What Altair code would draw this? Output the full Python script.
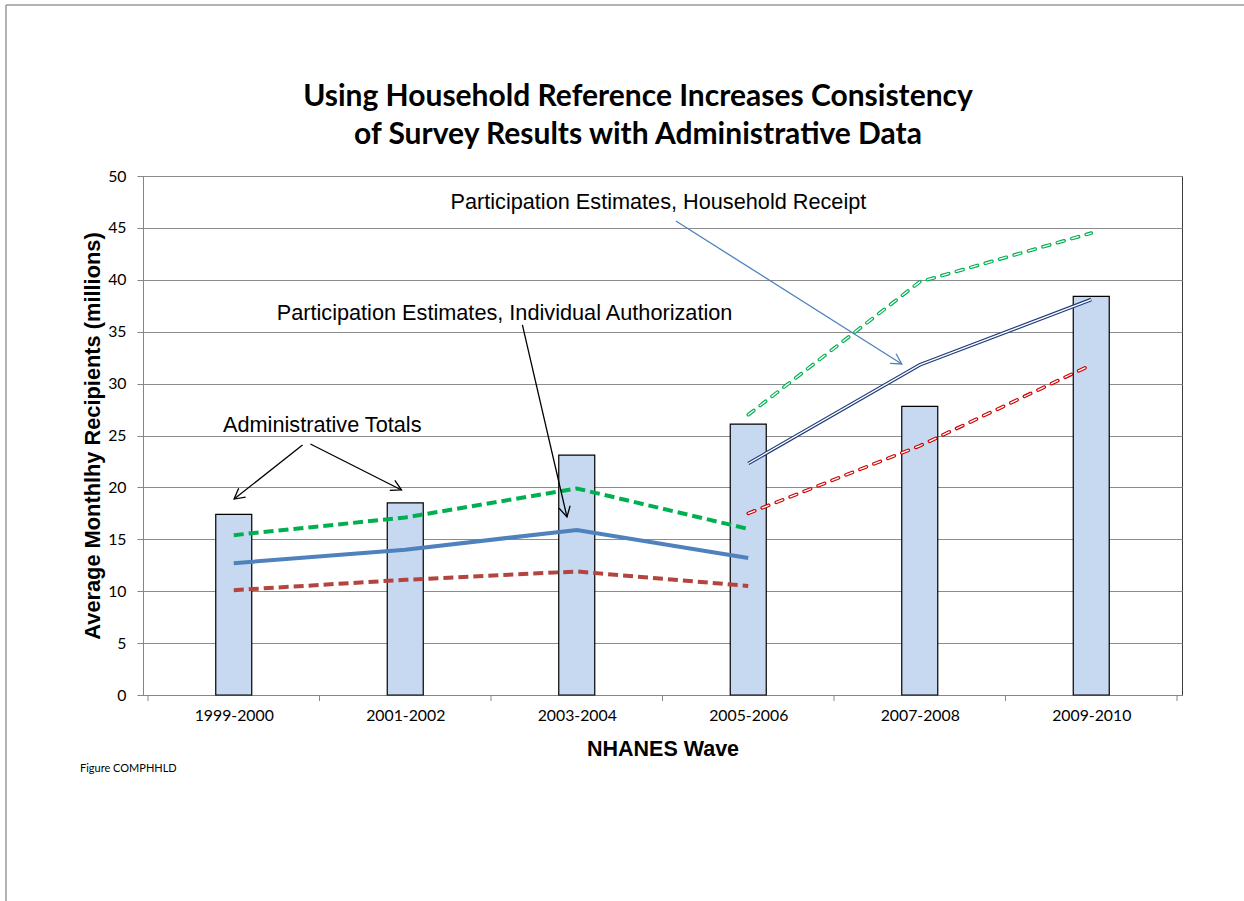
import math
import altair as alt
import pandas as pd

# ---------------- data ----------------
waves = ["1999-2000", "2001-2002", "2003-2004", "2005-2006", "2007-2008", "2009-2010"]
admin_totals = [17.4, 18.5, 23.1, 26.1, 27.8, 38.4]

# Participation estimates, individual authorization (1999-2000 .. 2005-2006)
indiv_waves = ["1999-2000", "2001-2002", "2003-2004", "2005-2006"]
indiv_upper = [15.4, 17.1, 19.9, 16.0]
indiv_point = [12.7, 14.0, 15.9, 13.2]
indiv_lower = [10.1, 11.1, 11.9, 10.5]

# Participation estimates, household receipt (2005-2006 .. 2009-2010)
hh_waves = ["2005-2006", "2007-2008", "2009-2010"]
hh_upper = [27.0, 39.8, 44.5]
hh_point = [22.3, 31.8, 38.1]
hh_lower = [17.5, 24.0, 31.8]

title_lines = ["Using Household Reference Increases Consistency",
               "of Survey Results with Administrative Data"]
y_title = "Average Monthlhy Recipients (millions)"
x_title = "NHANES Wave"
footnote = "Figure COMPHHLD"
y_ticks = [0, 5, 10, 15, 20, 25, 30, 35, 40, 45, 50]

# annotations (data coordinates: x = wave index scale, y = millions)
ann_text = ["Participation Estimates, Household Receipt",
            "Participation Estimates, Individual Authorization",
            "Administrative Totals"]
ann_x = [2.976, 2.079, 1.016]
ann_y = [46.82, 36.13, 25.34]
arr_x0 = [3.078, 2.183, 0.901, 0.947]
arr_y0 = [45.66, 35.65, 24.08, 24.18]
arr_x1 = [4.395, 2.443, 0.502, 1.478]
arr_y1 = [31.89, 17.15, 18.88, 19.75]
arr_col = ["#4F81BD", "#000000", "#000000", "#000000"]

# ---------------- layout ----------------
W, H = 1039, 519
PL, PT = 143, 176
n = len(waves)
xs = alt.Scale(domain=[0, n], nice=False, zero=False)
ys = alt.Scale(domain=[0, 50], nice=False, zero=True)
px_x = W / n
px_y = H / 50.0

label_expr = "[" + ",".join("'%s'" % w for w in waves) + "][floor(datum.value)]"

LABEL_FONT = "Lato"
ARIAL = "Liberation Sans"

x_axis = alt.Axis(values=[i + 0.5 for i in range(n)], labelExpr=label_expr, ticks=False,
                  grid=False, domainColor="#868686", labelFont=LABEL_FONT, labelFontSize=15.8,
                  labelColor="#000000", labelPadding=13, title=x_title, titleFont=ARIAL,
                  titleFontSize=21.5, titleFontWeight="bold", titleColor="#000000",
                  titleX=W / 2, titleY=60, titleBaseline="alphabetic", titleAlign="center")
y_axis = alt.Axis(values=y_ticks, grid=True, gridColor="#8C8C8C", gridWidth=1, tickSize=6,
                  tickColor="#868686", domainColor="#868686", labelFont=LABEL_FONT,
                  labelFontSize=15.8, labelColor="#000000", labelPadding=11, title=y_title,
                  titleFont=ARIAL, titleFontSize=21.8, titleFontWeight="bold",
                  titleColor="#000000", titleAngle=270, titleX=-44, titleY=H / 2,
                  titleBaseline="alphabetic", titleAlign="center")


def X(field):
    return alt.X(field, scale=xs, axis=x_axis)


def Y(field):
    return alt.Y(field, scale=ys, axis=y_axis)


bars_df = pd.DataFrame({"wave": waves, "pos": [i + 0.5 for i in range(n)], "value": admin_totals})
bars = alt.Chart(bars_df).mark_bar(size=36, fill="#C6D9F1", stroke="#000000", strokeWidth=1.2).encode(
    x=X("pos:Q"), y=Y("value:Q"))


def line_layer(wlist, vals, color, width, dash=None, cap="butt"):
    df = pd.DataFrame({"pos": [waves.index(w) + 0.5 for w in wlist], "value": vals})
    kw = dict(color=color, strokeWidth=width, strokeCap=cap)
    if dash:
        kw["strokeDash"] = dash
    return alt.Chart(df).mark_line(**kw).encode(x=X("pos:Q"), y=Y("value:Q"))


def double_line(wlist, vals, color, dash=None):
    cap = "round" if dash else "butt"
    return [line_layer(wlist, vals, color, 3.6, dash, cap),
            line_layer(wlist, vals, "#FFFFFF", 1.3, dash, cap)]


lines = [
    line_layer(indiv_waves, indiv_lower, "#B3443F", 4, [10, 5]),
    line_layer(indiv_waves, indiv_point, "#4F81BD", 4),
    line_layer(indiv_waves, indiv_upper, "#00B050", 4, [10, 5]),
]
lines += double_line(hh_waves, hh_lower, "#D00000", [7, 8])
lines += double_line(hh_waves, hh_point, "#1F3C7A")
lines += double_line(hh_waves, hh_upper, "#00B050", [7, 8])

# x-axis tick marks at category boundaries
ticks_df = pd.DataFrame({"pos": list(range(n + 1))})
xticks = alt.Chart(ticks_df).mark_rule(color="#868686", strokeWidth=1).encode(
    x=X("pos:Q"), y=alt.value(H), y2=alt.value(H + 6))

# arrows
angles = []
for i in range(len(arr_x0)):
    dx = (arr_x1[i] - arr_x0[i]) * px_x
    dy = -(arr_y1[i] - arr_y0[i]) * px_y
    angles.append(math.degrees(math.atan2(dy, dx)) % 360)
arr_df = pd.DataFrame({"pos": arr_x0, "value": arr_y0, "x1": arr_x1, "y1": arr_y1,
                       "col": arr_col, "ang": angles})
shafts = alt.Chart(arr_df).mark_rule(strokeWidth=1.3).encode(
    x=X("pos:Q"), x2="x1:Q", y=Y("value:Q"), y2="y1:Q",
    color=alt.Color("col:N", scale=None))
heads_df = pd.DataFrame({"pos": arr_x1, "value": arr_y1, "col": arr_col, "ang": angles})
heads = alt.Chart(heads_df).mark_point(shape="M -1 -0.55 L 0 0 L -1 0.55", filled=False, size=420,
                                       strokeWidth=1.3, opacity=1).encode(
    x=X("pos:Q"), y=Y("value:Q"),
    angle=alt.Angle("ang:Q", scale=None),
    color=alt.Color("col:N", scale=None))

ann_df = pd.DataFrame({"t": ann_text, "pos": ann_x, "value": ann_y})
ann = alt.Chart(ann_df).mark_text(font=ARIAL, fontSize=21.7, align="center", baseline="alphabetic",
                                  color="#000000").encode(
    x=X("pos:Q"), y=Y("value:Q"), text="t:N")

one = pd.DataFrame({"a": [0]})


def free_text(txt, x, y, font, size, weight="normal", align="center"):
    return alt.Chart(one).mark_text(text=txt, font=font, fontSize=size, fontWeight=weight,
                                    align=align, baseline="alphabetic", color="#000000").encode(
        x=alt.value(x - PL), y=alt.value(y - PT))


title1 = free_text(title_lines[0], 638, 106, LABEL_FONT, 30, "bold")
title2 = free_text(title_lines[1], 638, 144, LABEL_FONT, 30, "bold")
foot = free_text(footnote, 80, 772, LABEL_FONT, 11, "normal", "left")

border_top = alt.Chart(one).mark_rule(color="#9A9A9A", strokeWidth=1.5).encode(
    x=alt.value(6 - PL), x2=alt.value(1244 - PL), y=alt.value(5 - PT))
border_left = alt.Chart(one).mark_rule(color="#9A9A9A", strokeWidth=1.5).encode(
    x=alt.value(6 - PL), y=alt.value(5 - PT), y2=alt.value(901 - PT))

chart = alt.layer(bars, *lines, xticks, shafts, heads, ann, title1, title2, foot,
                  border_top, border_left).properties(
    width=W, height=H,
    autosize=alt.AutoSizeParams(type="none"),
    padding={"left": PL, "top": PT, "right": 1244 - PL - W, "bottom": 901 - PT - H},
    background="white",
).configure_view(stroke="#3C3C3C", strokeWidth=1)

chart.save("out.html", embed_options={"renderer": "svg", "actions": False})
